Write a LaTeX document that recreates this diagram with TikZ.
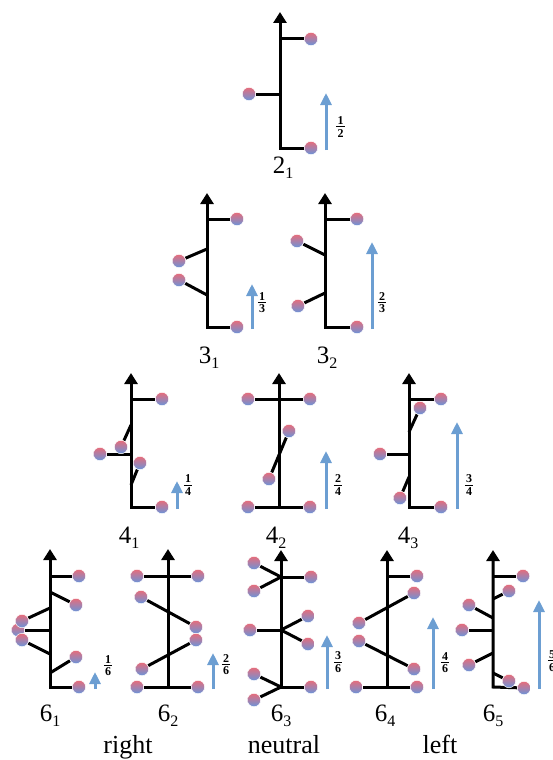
\documentclass[tikz,border=0pt]{standalone}
\usepackage{fontspec}
\setmainfont{Liberation Serif}
\usetikzlibrary{arrows.meta}
\definecolor{dotR}{RGB}{232,108,122}
\definecolor{dotB}{RGB}{105,148,218}
\definecolor{arrB}{RGB}{108,158,210}
\pgfdeclarelayer{bg}
\pgfsetlayers{bg,main}
\newcommand{\fr}[2]{\vbox{\fontsize{12}{12}\selectfont\bfseries\hbox to 8.5pt{\hss#1\hss}\kern1.6pt\hrule height 0.8pt\kern1.8pt\hbox to 8.5pt{\hss#2\hss}}}
\newcommand{\lbl}[2]{#1\raisebox{-4.5pt}{\fontsize{16}{16}\selectfont #2}}
\tikzset{
 bead/.style={circle,minimum size=13.4pt,inner sep=0pt,top color=dotR,bottom color=dotB,draw=white,line width=0.5pt},
 bond/.style={line width=3pt,black},
 spine/.style={line width=3pt,black,-{Triangle[width=13pt,length=11pt]}},
 movearrow/.style={line width=3pt,arrB,-{Triangle[width=11pt,length=12pt]}},
 fracnode/.style={inner sep=0pt},
 lab/.style={inner sep=0pt,anchor=north,font=\fontsize{25}{25}\selectfont},
 word/.style={inner sep=0pt,anchor=base,font=\fontsize{26}{26}\selectfont}
}
\begin{document}
\begin{tikzpicture}[x=1pt,y=-1pt]
\useasboundingbox (0,0) rectangle (553,760);
% ---------- 2_1 ----------
\node[bead] (a1) at (311,39) {};
\node[bead] (a2) at (249,94) {};
\node[bead] (a3) at (311,148) {};
\coordinate (aP1) at (280,39); \coordinate (aP2) at (280,94);
\coordinate (aB) at (280,148); \coordinate (aT) at (280,12);
\coordinate (aU0) at (326,150); \coordinate (aU1) at (326,93);
\begin{pgfonlayer}{bg}
\draw[bond] (aP1) -- (a1); \draw[bond] (aP2) -- (a2);
\draw[spine] (a3) -- (aB) -- (aT);
\end{pgfonlayer}
\draw[movearrow] (aU0) -- (aU1);
\node[fracnode] (aF) at (340.5,127) {\fr12};
\node[lab] (aL) at (283,157) {\lbl21};
% ---------- 3_1 ----------
\node[bead] (b1) at (237,219) {};
\node[bead] (b2) at (179,261) {};
\node[bead] (b3) at (179,280) {};
\node[bead] (b4) at (237,327) {};
\coordinate (bP1) at (207,219); \coordinate (bP2) at (207,249); \coordinate (bP3) at (207,295);
\coordinate (bB) at (207,327); \coordinate (bT) at (207,193);
\coordinate (bU0) at (252,329); \coordinate (bU1) at (252,284);
\begin{pgfonlayer}{bg}
\draw[bond] (bP1) -- (b1); \draw[bond] (bP2) -- (b2); \draw[bond] (bP3) -- (b3);
\draw[spine] (b4) -- (bB) -- (bT);
\end{pgfonlayer}
\draw[movearrow] (bU0) -- (bU1);
\node[fracnode] (bF) at (262,303) {\fr13};
\node[lab] (bL) at (209,347) {\lbl31};
% ---------- 3_2 ----------
\node[bead] (c1) at (357,219) {};
\node[bead] (c2) at (297,241) {};
\node[bead] (c3) at (298,306) {};
\node[bead] (c4) at (357,327) {};
\coordinate (cP1) at (325,219); \coordinate (cP2) at (325,255); \coordinate (cP3) at (325,293);
\coordinate (cB) at (325,327); \coordinate (cT) at (325,193);
\coordinate (cU0) at (372,329); \coordinate (cU1) at (372,242);
\begin{pgfonlayer}{bg}
\draw[bond] (cP1) -- (c1); \draw[bond] (cP2) -- (c2); \draw[bond] (cP3) -- (c3);
\draw[spine] (c4) -- (cB) -- (cT);
\end{pgfonlayer}
\draw[movearrow] (cU0) -- (cU1);
\node[fracnode] (cF) at (382,303) {\fr23};
\node[lab] (cL) at (327,347) {\lbl32};
% ---------- 4_1 ----------
\node[bead] (d1) at (162,399) {};
\node[bead] (d2) at (100,454) {};
\node[bead] (d3) at (121,447) {};
\node[bead] (d4) at (140,463) {};
\node[bead] (d5) at (162,507) {};
\coordinate (dP1) at (131,399); \coordinate (dP2) at (131,454); \coordinate (dP3) at (131,425);
\coordinate (dP4) at (131,485); \coordinate (dB) at (131,507); \coordinate (dT) at (131,373);
\coordinate (dU0) at (177,509); \coordinate (dU1) at (177,481);
\begin{pgfonlayer}{bg}
\draw[bond] (dP1) -- (d1); \draw[bond] (dP2) -- (d2); \draw[bond] (dP3) -- (d3); \draw[bond] (dP4) -- (d4);
\draw[spine] (d5) -- (dB) -- (dT);
\end{pgfonlayer}
\draw[movearrow] (dU0) -- (dU1);
\node[fracnode] (dF) at (188,485) {\fr14};
\node[lab] (dL) at (129,527) {\lbl41};
% ---------- 4_2 ----------
\node[bead] (e1) at (248,399) {};
\node[bead] (e2) at (310,399) {};
\node[bead] (e3) at (289,431) {};
\node[bead] (e4) at (269,479) {};
\node[bead] (e5) at (248,507) {};
\node[bead] (e6) at (310,507) {};
\coordinate (eB) at (279,507); \coordinate (eT) at (279,373);
\coordinate (eU0) at (326,509); \coordinate (eU1) at (326,451);
\begin{pgfonlayer}{bg}
\draw[bond] (e1) -- (e2); \draw[bond] (e3) -- (e4); \draw[bond] (e5) -- (e6);
\draw[spine] (eB) -- (eT);
\end{pgfonlayer}
\draw[movearrow] (eU0) -- (eU1);
\node[fracnode] (eF) at (338,485) {\fr24};
\node[lab] (eL) at (276,527) {\lbl42};
% ---------- 4_3 ----------
\node[bead] (f1) at (441,399) {};
\node[bead] (f2) at (420,408) {};
\node[bead] (f3) at (380,454) {};
\node[bead] (f4) at (400,498) {};
\node[bead] (f5) at (441,507) {};
\coordinate (fP1) at (409,399); \coordinate (fP2) at (409,432); \coordinate (fP3) at (409,454);
\coordinate (fP4) at (409,477); \coordinate (fB) at (409,507); \coordinate (fT) at (409,373);
\coordinate (fU0) at (457,509); \coordinate (fU1) at (457,422);
\begin{pgfonlayer}{bg}
\draw[bond] (fP1) -- (f1); \draw[bond] (fP2) -- (f2); \draw[bond] (fP3) -- (f3); \draw[bond] (fP4) -- (f4);
\draw[spine] (f5) -- (fB) -- (fT);
\end{pgfonlayer}
\draw[movearrow] (fU0) -- (fU1);
\node[fracnode] (fF) at (469,485) {\fr34};
\node[lab] (fL) at (408,527) {\lbl43};
% ---------- 6_1 ----------
\node[bead] (g1) at (79,576) {};
\node[bead] (g2) at (76,605) {};
\node[bead] (g4) at (18,630) {};
\node[bead] (g3) at (22,621) {};
\node[bead] (g5) at (22,640) {};
\node[bead] (g6) at (76,657) {};
\node[bead] (g7) at (79,687) {};
\coordinate (gP1) at (50,576); \coordinate (gP2) at (50,592); \coordinate (gP3) at (50,608);
\coordinate (gP4) at (50,630); \coordinate (gP5) at (50,654); \coordinate (gP6) at (50,673);
\coordinate (gB) at (50,687); \coordinate (gT) at (50,549);
\coordinate (gU0) at (95,689); \coordinate (gU1) at (95,672);
\begin{pgfonlayer}{bg}
\draw[bond] (gP1) -- (g1); \draw[bond] (gP2) -- (g2); \draw[bond] (gP3) -- (g3);
\draw[bond] (gP4) -- (g4); \draw[bond] (gP5) -- (g5); \draw[bond] (gP6) -- (g6);
\draw[spine] (g7) -- (gB) -- (gT);
\end{pgfonlayer}
\draw[movearrow] (gU0) -- (gU1);
\node[fracnode] (gF) at (108,666) {\fr16};
\node[lab] (gL) at (50,705) {\lbl61};
% ---------- 6_2 ----------
\node[bead] (h1) at (137,576) {};
\node[bead] (h2) at (198,576) {};
\node[bead] (h3) at (141,597) {};
\node[bead] (h4) at (196,627) {};
\node[bead] (h5) at (196,640) {};
\node[bead] (h6) at (142,669) {};
\node[bead] (h7) at (137,687) {};
\node[bead] (h8) at (198,687) {};
\coordinate (hB) at (168,687); \coordinate (hT) at (168,549);
\coordinate (hU0) at (213,689); \coordinate (hU1) at (213,653);
\begin{pgfonlayer}{bg}
\draw[bond] (h1) -- (h2); \draw[bond] (h3) -- (h4); \draw[bond] (h5) -- (h6); \draw[bond] (h7) -- (h8);
\draw[spine] (hB) -- (hT);
\end{pgfonlayer}
\draw[movearrow] (hU0) -- (hU1);
\node[fracnode] (hF) at (226,665) {\fr26};
\node[lab] (hL) at (168,705) {\lbl62};
% ---------- 6_3 ----------
\node[bead] (i1) at (311,577) {};
\node[bead] (i2) at (254,563) {};
\node[bead] (i3) at (254,591) {};
\node[bead] (i4) at (250,630) {};
\node[bead] (i5) at (308,616) {};
\node[bead] (i6) at (308,644) {};
\node[bead] (i7) at (311,687) {};
\node[bead] (i8) at (254,674) {};
\node[bead] (i9) at (254,700) {};
\coordinate (iP1) at (281,577); \coordinate (iP2) at (281,630);
\coordinate (iB) at (281,687); \coordinate (iT) at (281,550);
\coordinate (iU0) at (327,689); \coordinate (iU1) at (327,635);
\begin{pgfonlayer}{bg}
\draw[bond] (iP1) -- (i1); \draw[bond] (iP1) -- (i2); \draw[bond] (iP1) -- (i3);
\draw[bond] (iP2) -- (i4); \draw[bond] (iP2) -- (i5); \draw[bond] (iP2) -- (i6);
\draw[bond] (iB) -- (i7); \draw[bond] (iB) -- (i8); \draw[bond] (iB) -- (i9);
\draw[spine] (iB) -- (iT);
\end{pgfonlayer}
\draw[movearrow] (iU0) -- (iU1);
\node[fracnode] (iF) at (338,662) {\fr36};
\node[lab] (iL) at (281,705) {\lbl63};
% ---------- 6_4 ----------
\node[bead] (j1) at (417,576) {};
\node[bead] (j2) at (414,593) {};
\node[bead] (j3) at (359,623) {};
\node[bead] (j4) at (359,641) {};
\node[bead] (j5) at (414,669) {};
\node[bead] (j6) at (356,687) {};
\node[bead] (j7) at (417,687) {};
\coordinate (jP1) at (387,576); \coordinate (jB) at (387,687); \coordinate (jT) at (387,550);
\coordinate (jU0) at (433,689); \coordinate (jU1) at (433,617);
\begin{pgfonlayer}{bg}
\draw[bond] (jP1) -- (j1); \draw[bond] (j2) -- (j3); \draw[bond] (j4) -- (j5); \draw[bond] (j6) -- (j7);
\draw[spine] (jB) -- (jT);
\end{pgfonlayer}
\draw[movearrow] (jU0) -- (jU1);
\node[fracnode] (jF) at (445,663) {\fr46};
\node[lab] (jL) at (385,705) {\lbl64};
% ---------- 6_5 ----------
\node[bead] (k1) at (523,576) {};
\node[bead] (k2) at (509,591) {};
\node[bead] (k3) at (469,605) {};
\node[bead] (k4) at (462,630) {};
\node[bead] (k5) at (469,665) {};
\node[bead] (k7) at (524,688) {};
\node[bead] (k6) at (509,681) {};
\coordinate (kP1) at (493,576); \coordinate (kP2) at (493,599); \coordinate (kP3) at (493,618);
\coordinate (kP4) at (493,630); \coordinate (kP5) at (493,653); \coordinate (kP6) at (493,673);
\coordinate (kB) at (493,687); \coordinate (kT) at (493,550);
\coordinate (kU0) at (539,689); \coordinate (kU1) at (539,600);
\begin{pgfonlayer}{bg}
\draw[bond] (kP1) -- (k1); \draw[bond] (kP2) -- (k2); \draw[bond] (kP3) -- (k3);
\draw[bond] (kP4) -- (k4); \draw[bond] (kP5) -- (k5); \draw[bond] (kP6) -- (k6);
\draw[spine] (k7) -- (kB) -- (kT);
\end{pgfonlayer}
\draw[movearrow] (kU0) -- (kU1);
\node[fracnode] (kF) at (552,661) {\fr56};
\node[lab] (kL) at (493,705) {\lbl65};
% ---------- words ----------
\node[word] (wR) at (128,753) {right};
\node[word] (wN) at (284,753) {neutral};
\node[word] (wL) at (440,753) {left};
\end{tikzpicture}
\end{document}
